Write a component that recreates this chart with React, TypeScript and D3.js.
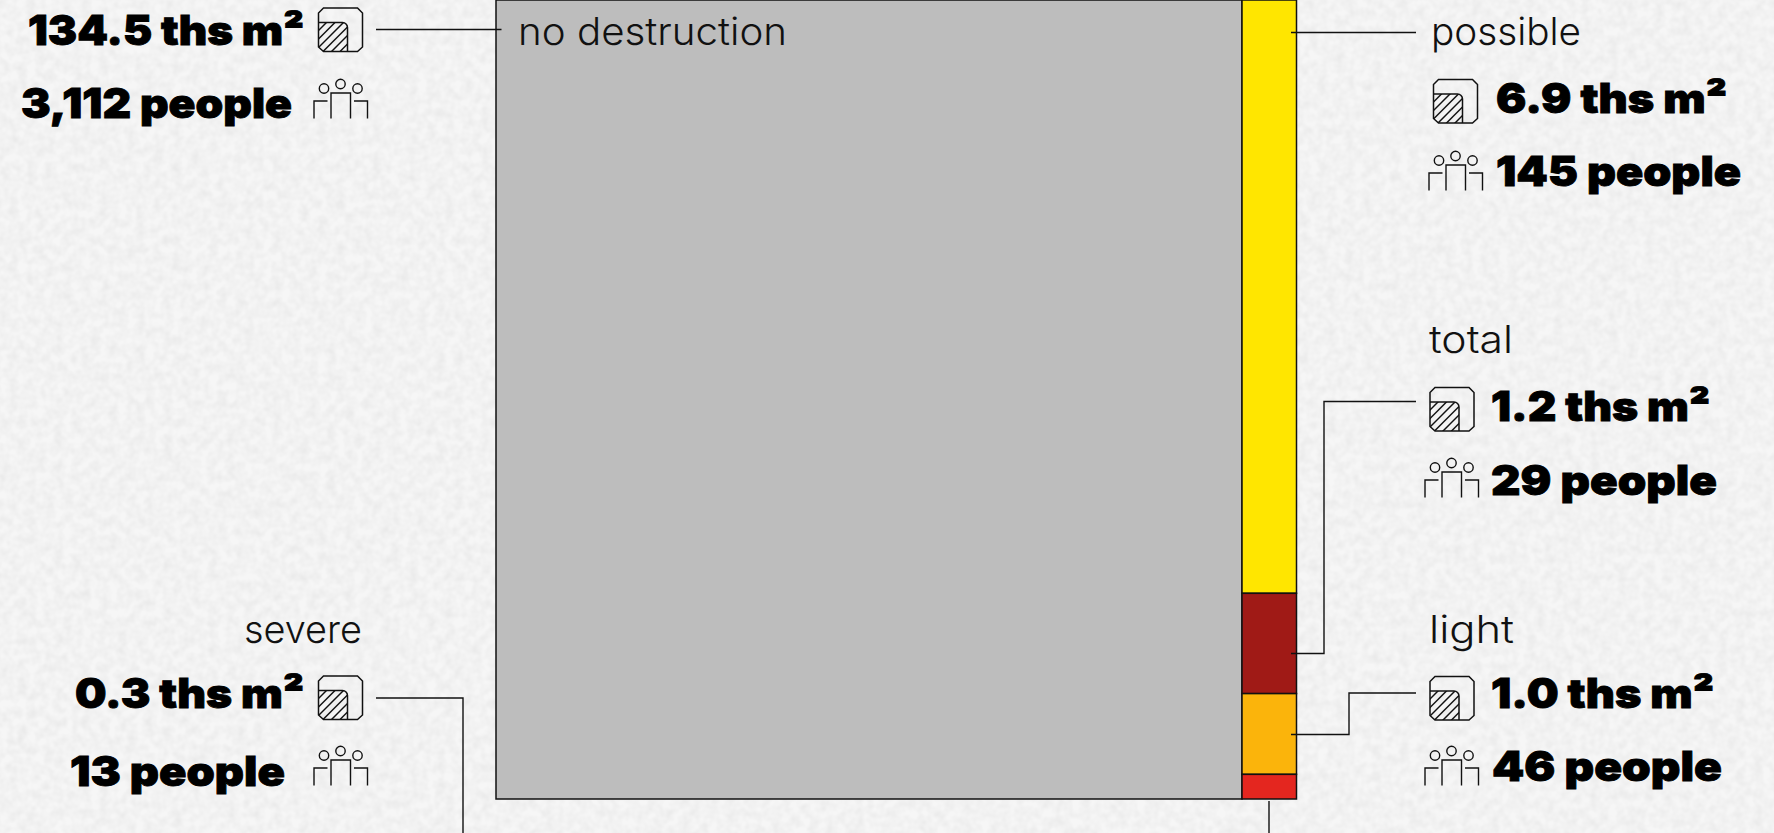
import React from "react";
import * as d3 from "d3";

const width = 1774;
const height = 833;

// damage categories, top of the right column first
const categories = ["possible", "total", "light", "severe"];
const areaThs = [6.9, 1.2, 1.0, 0.3];
const people = [145, 29, 46, 13];
// unrounded areas as read from the height of each block
const blockArea = [6.98, 1.18, 0.95, 0.29];
const colors = ["#ffe600", "#a01a16", "#fbb40b", "#e4261f"];

const noDamageLabel = "no destruction";
const noDamageArea = 134.5;
const noDamagePeople = 3112;
const noDamageColor = "#bdbdbd";

const blockTotal = d3.sum(blockArea);

const x = d3
  .scaleLinear()
  .domain([0, noDamageArea, noDamageArea + blockTotal])
  .range([496, 1242, 1296.5]);
const y = d3.scaleLinear().domain([0, blockTotal]).range([0, 799]);
const tops = [0, ...d3.cumsum(blockArea)];

const fmtArea = (v: number) => `${d3.format(".1f")(v)} ths m²`;
const fmtPeople = (v: number) => `${d3.format(",")(v)} people`;

const INK = "#111";
const BOLD = "Inter, 'Noto Sans', sans-serif";
const LIGHT = "Inter, 'Open Sans', sans-serif";

function AreaIcon({ x, y, id }: { x: number; y: number; id: string }) {
  const hatch = d3.range(-30, 44, 8.5);
  return (
    <g transform={`translate(${x},${y})`} fill="none" stroke={INK} strokeWidth={1.5}>
      <clipPath id={id}>
        <path d="M0 14.5H24a5 5 0 0 1 5 5V43.5H5L0 39Z" />
      </clipPath>
      <g clipPath={`url(#${id})`}>
        {hatch.map((d) => (
          <line key={d} x1={d} y1={44} x2={d + 30} y2={14} />
        ))}
      </g>
      <path d="M0 14.5H24a5 5 0 0 1 5 5V43.5" />
      <path d="M5 0H39L44 5V39L39 43.5H5L0 39V5Z" />
    </g>
  );
}

function PeopleIcon({ x, y }: { x: number; y: number }) {
  return (
    <g transform={`translate(${x},${y})`} fill="none" stroke={INK} strokeWidth={1.4}>
      <circle cx={10.5} cy={9.5} r={4.7} />
      <circle cx={27} cy={5} r={4.7} />
      <circle cx={44} cy={9.5} r={4.7} />
      <path d="M0.5 39.5V22H14" />
      <path d="M17.5 39.5V14H37V39.5" />
      <path d="M40.5 22H54V39.5" />
    </g>
  );
}

type Note = {
  label: [number, number, number];
  area: [number, number, number];
  people: [number, number, number];
  areaIcon: [number, number];
  peopleIcon: [number, number];
};

// text: x, baseline, drawn width
const notes: Record<string, Note> = {
  possible: {
    label: [1431, 45, 150],
    area: [1496, 113, 231],
    people: [1496, 186, 245],
    areaIcon: [1433.5, 79.5],
    peopleIcon: [1428.5, 151],
  },
  total: {
    label: [1429, 353, 84],
    area: [1491, 421, 219],
    people: [1491, 495, 226],
    areaIcon: [1430, 387.5],
    peopleIcon: [1424.5, 458],
  },
  light: {
    label: [1429, 643, 85],
    area: [1491, 707.5, 223],
    people: [1492, 781, 230],
    areaIcon: [1430, 676.5],
    peopleIcon: [1424.5, 746],
  },
  severe: {
    label: [244, 643, 118],
    area: [75, 707.5, 229],
    people: [70, 786, 215],
    areaIcon: [318.5, 676],
    peopleIcon: [313.5, 746],
  },
};

const leaders = [
  "M376 29.5H501.5",
  "M1291 32.5H1416",
  "M1291 653.5H1324V401.5H1416",
  "M1291 734.5H1349V693H1416",
  "M376 698H463V833",
  "M1269 801V833",
];

const BoldText = ({ at, text }: { at: [number, number, number]; text: string }) => (
  <text
    x={at[0]}
    y={at[1]}
    fontFamily={BOLD}
    fontWeight={900}
    fontSize={41}
    fill="#000"
    stroke="#000"
    strokeWidth={0.9}
    textLength={at[2]}
    lengthAdjust="spacingAndGlyphs"
  >
    {text}
  </text>
);

const LightText = ({ at, text }: { at: [number, number, number]; text: string }) => (
  <text
    x={at[0]}
    y={at[1]}
    fontFamily={LIGHT}
    fontWeight={300}
    fontSize={38}
    fill="#111"
    textLength={at[2]}
    lengthAdjust="spacingAndGlyphs"
  >
    {text}
  </text>
);

export default function App() {
  return (
    <svg
      width={width}
      height={height}
      style={{ position: "absolute", left: 0, top: 0, display: "block" }}
    >
      <defs>
        <filter id="paper" x="0" y="0" width="100%" height="100%">
          <feTurbulence type="fractalNoise" baseFrequency="0.11" numOctaves={2} seed={4} />
          <feColorMatrix values="0 0 0 0 0.55  0 0 0 0 0.55  0 0 0 0 0.55  0.4 0 0 0 -0.12" />
        </filter>
      </defs>
      <rect width={width} height={height} fill="#f6f6f6" />
      <rect width={width} height={height} filter="url(#paper)" />

      <rect
        x={x(0)}
        y={y(0)}
        width={x(noDamageArea) - x(0)}
        height={y(blockTotal)}
        fill={noDamageColor}
        stroke={INK}
        strokeWidth={1.5}
      />
      {categories.map((c, i) => (
        <rect
          key={c}
          x={x(noDamageArea)}
          y={y(tops[i])}
          width={x(noDamageArea + blockTotal) - x(noDamageArea)}
          height={y(tops[i + 1]) - y(tops[i])}
          fill={colors[i]}
          stroke={INK}
          strokeWidth={1.5}
        />
      ))}

      {leaders.map((d) => (
        <path key={d} d={d} fill="none" stroke={INK} strokeWidth={1.4} />
      ))}

      <LightText at={[518, 45, 269]} text={noDamageLabel} />
      <BoldText at={[28, 45, 276]} text={fmtArea(noDamageArea)} />
      <BoldText at={[21, 118, 271]} text={fmtPeople(noDamagePeople)} />
      <AreaIcon x={318.5} y={8} id="icon-nd" />
      <PeopleIcon x={313.5} y={79} />

      {categories.map((c, i) => {
        const n = notes[c];
        return (
          <g key={c}>
            <LightText at={n.label} text={c} />
            <BoldText at={n.area} text={fmtArea(areaThs[i])} />
            <BoldText at={n.people} text={fmtPeople(people[i])} />
            <AreaIcon x={n.areaIcon[0]} y={n.areaIcon[1]} id={`icon-${c}`} />
            <PeopleIcon x={n.peopleIcon[0]} y={n.peopleIcon[1]} />
          </g>
        );
      })}
    </svg>
  );
}
